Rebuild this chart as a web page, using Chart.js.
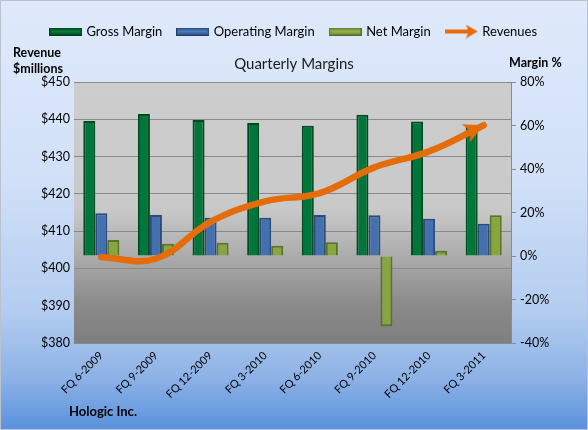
<!DOCTYPE html>
<html lang="en">
<head>
    <meta charset="UTF-8">
    <title>Quarterly Margins</title>
    <script src="https://cdn.jsdelivr.net/npm/chart.js"></script>
    <style>
        html, body { margin: 0; padding: 0; background: #ffffff; }
        #wrap {
            position: relative;
            width: 586px;
            height: 428px;
            border: 1px solid #b9c3cf;
            background: linear-gradient(to bottom, #dfe9fb 0%, #d2e1f8 40%, #b4cdf0 72%, #8db2e6 88%, #5a92dc 100%);
            font-family: Lato, "Open Sans", sans-serif;
        }
        .lbl { position: absolute; font-weight: bold; font-size: 12.5px; color: #000; line-height: 16px; }
    </style>
</head>
<body>
    <div id="wrap">
        <canvas id="marginChart"></canvas>
        <div class="lbl" style="left:12px; top:44px;">Revenue<br>$millions</div>
        <div class="lbl" style="left:508px; top:54px;">Margin %</div>
        <div class="lbl" style="left:68px; top:402px; font-size:13px;">Hologic Inc.</div>
    </div>

    <script>
        // values
        const quarters = ['FQ 6-2009', 'FQ 9-2009', 'FQ 12-2009', 'FQ 3-2010', 'FQ 6-2010', 'FQ 9-2010', 'FQ 12-2010', 'FQ 3-2011'];
        const grossMargin = [62.1, 65.3, 62.5, 61.1, 59.9, 65.0, 61.8, 59.7];
        const operatingMargin = [19.6, 18.9, 17.6, 17.6, 18.8, 18.7, 17.1, 14.8];
        const netMargin = [7.3, 5.6, 6.1, 4.7, 6.3, -32.3, 2.4, 18.7];
        const revenues = [403.0, 402.6, 412.5, 418.0, 420.2, 427.1, 431.4, 438.4];

        const revenueTicks = { min: 380, max: 450, step: 10 };
        const marginTicks = { min: -40, max: 80, step: 20 };

        // small swatches for the legend, and the arrow head for the line end
        function swatch(fill, edge, light) {
            const c = document.createElement('canvas');
            c.width = 33; c.height = 8;
            const g = c.getContext('2d');
            g.fillStyle = edge; g.fillRect(0, 0, 33, 8);
            g.fillStyle = fill; g.fillRect(1, 1, 31, 6);
            g.fillStyle = light; g.fillRect(2, 3, 29, 2);
            return c;
        }
        function arrowHead(size) {
            // tip sits at the middle of the canvas so it lands on the last point
            const c = document.createElement('canvas');
            c.width = size * 2; c.height = size * 2;
            const g = c.getContext('2d');
            g.fillStyle = '#e46c0a';
            g.beginPath();
            g.moveTo(size, size);
            g.lineTo(0, size - size * 0.5);
            g.lineTo(size * 0.3, size);
            g.lineTo(0, size + size * 0.5);
            g.closePath();
            g.fill();
            return c;
        }

        const legendIcons = [
            swatch('#00612d', '#003d1c', '#0a7a3c'),
            swatch('#3a64a0', '#25416b', '#4f7bb8'),
            swatch('#7f9a3d', '#556a26', '#94b04f')
        ];
        const legendArrow = (function () {
            const c = document.createElement('canvas');
            c.width = 33; c.height = 14;
            const g = c.getContext('2d');
            g.fillStyle = '#e46c0a';
            g.fillRect(0, 5, 24, 4);
            g.beginPath();
            g.moveTo(33, 7); g.lineTo(21, 0); g.lineTo(24, 7); g.lineTo(21, 14);
            g.closePath(); g.fill();
            return c;
        })();
        const endArrow = arrowHead(20);

        const plotBackground = {
            id: 'plotBackground',
            beforeDraw(chart) {
                const { ctx, chartArea: a } = chart;
                const grad = ctx.createLinearGradient(0, a.top, 0, a.bottom);
                grad.addColorStop(0, '#cdcdcd');
                grad.addColorStop(0.48, '#c9c9c9');
                grad.addColorStop(0.66, '#adadad');
                grad.addColorStop(0.85, '#8a8a8a');
                grad.addColorStop(1, '#7f7f7f');
                ctx.save();
                ctx.fillStyle = grad;
                ctx.fillRect(a.left, a.top, a.right - a.left, a.bottom - a.top);
                ctx.restore();
            }
        };

        Chart.defaults.font.family = 'Lato, "Open Sans", sans-serif';
        Chart.defaults.color = '#000';

        const ctx = document.getElementById('marginChart').getContext('2d');
        new Chart(ctx, {
            type: 'bar',
            data: {
                labels: quarters,
                datasets: [
                    {
                        label: 'Gross Margin',
                        data: grossMargin,
                        yAxisID: 'y1',
                        backgroundColor: '#00763a',
                        borderColor: '#004a22',
                        borderWidth: 2,
                        order: 1
                    },
                    {
                        label: 'Operating Margin',
                        data: operatingMargin,
                        yAxisID: 'y1',
                        backgroundColor: '#4470ad',
                        borderColor: '#2b4c7c',
                        borderWidth: 2,
                        order: 1
                    },
                    {
                        label: 'Net Margin',
                        data: netMargin,
                        yAxisID: 'y1',
                        backgroundColor: '#86a640',
                        borderColor: '#5b7229',
                        borderWidth: 2,
                        order: 1
                    },
                    {
                        type: 'line',
                        label: 'Revenues',
                        data: revenues,
                        yAxisID: 'y',
                        borderColor: '#e46c0a',
                        borderWidth: 6.5,
                        tension: 0.4,
                        borderCapStyle: 'round',
                        pointStyle: endArrow,
                        pointRadius: revenues.map((v, i) => i === revenues.length - 1 ? 8 : 0),
                        pointRotation: -24,
                        order: 0
                    }
                ]
            },
            options: {
                responsive: true,
                maintainAspectRatio: false,
                animation: false,
                datasets: {
                    bar: { barPercentage: 1, categoryPercentage: 0.66 }
                },
                layout: { padding: { top: 8, left: 0, right: 0, bottom: 0 } },
                plugins: {
                    legend: {
                        position: 'top',
                        labels: {
                            usePointStyle: true,
                            pointStyleWidth: 29,
                            boxHeight: 8,
                            padding: 16,
                            font: { size: 13 },
                            generateLabels(chart) {
                                return chart.data.datasets.map((ds, i) => ({
                                    text: ds.label,
                                    pointStyle: i < 3 ? legendIcons[i] : legendArrow,
                                    datasetIndex: i,
                                    hidden: false,
                                    fontColor: '#000',
                                    lineWidth: 0
                                }));
                            }
                        }
                    },
                    title: {
                        display: true,
                        weight: 500,
                        text: 'Quarterly Margins',
                        font: { size: 15, weight: 'normal' },
                        color: '#1a1a1a',
                        padding: { top: 7, bottom: 9 }
                    },
                    tooltip: { enabled: false }
                },
                scales: {
                    x: {
                        grid: { display: false },
                        border: { display: false },
                        ticks: { maxRotation: 45, minRotation: 45, font: { size: 11 }, padding: -2 },
                        afterFit(s) { s.height = 86; }
                    },
                    y: {
                        position: 'left',
                        min: revenueTicks.min,
                        max: revenueTicks.max,
                        ticks: { stepSize: revenueTicks.step, callback: v => '$' + v, font: { size: 12.5 }, padding: 4 },
                        grid: { color: '#8a8a8a', drawTicks: false },
                        border: { display: false },
                        afterFit(s) { s.width = 73; }
                    },
                    y1: {
                        position: 'right',
                        min: marginTicks.min,
                        max: marginTicks.max,
                        ticks: { stepSize: marginTicks.step, callback: v => v + '%', font: { size: 12.5 }, padding: 4 },
                        grid: { drawOnChartArea: false, color: '#8a8a8a', tickLength: 5 },
                        border: { color: '#8a8a8a' },
                        afterFit(s) { s.width = 76; }
                    }
                }
            },
            plugins: [plotBackground]
        });
    </script>
</body>
</html>
